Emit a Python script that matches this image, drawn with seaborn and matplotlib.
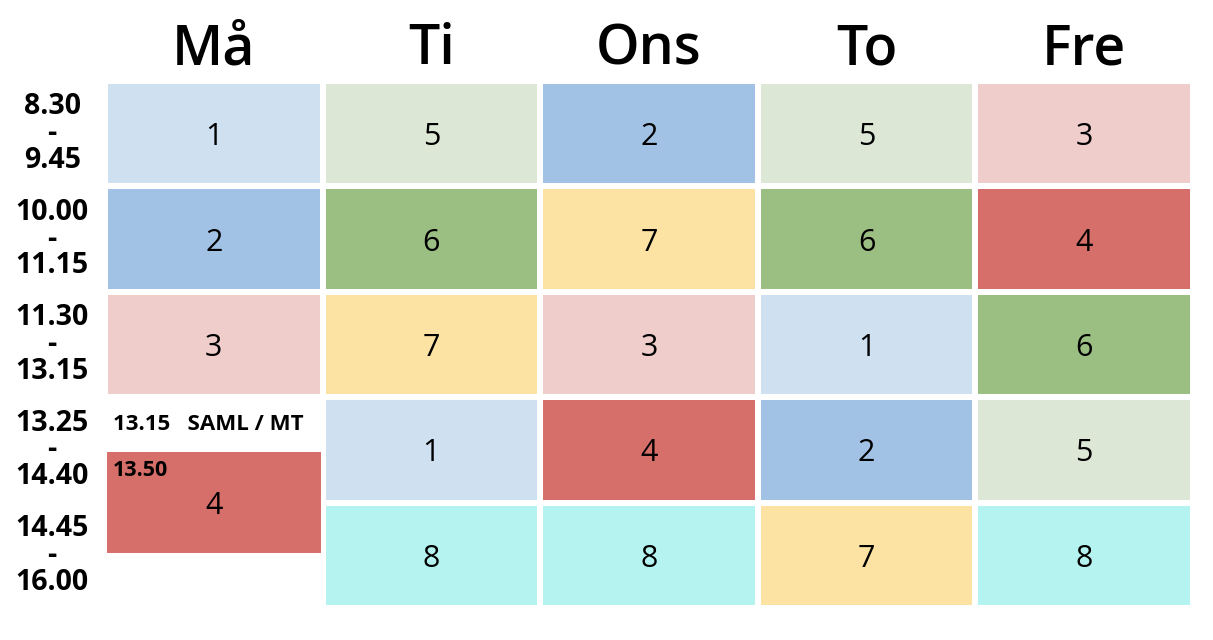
import numpy as np
import pandas as pd
import matplotlib
matplotlib.use("Agg")
import matplotlib.pyplot as plt
from matplotlib.colors import ListedColormap
import seaborn as sns

days = ["Må", "Ti", "Ons", "To", "Fre"]
times = ["8.30\n-\n9.45", "10.00\n-\n11.15", "11.30\n-\n13.15",
         "13.25\n-\n14.40", "14.45\n-\n16.00"]
ma = [1, 2, 3, np.nan, np.nan]
ti = [5, 6, 7, 1, 8]
ons = [2, 7, 3, 4, 8]
to = [5, 6, 1, 2, 7]
fre = [3, 4, 6, 5, 8]

# Monday afternoon special block
ma_note = "13.15   SAML / MT"
ma_block_subject = 4
ma_block_start_label = "13.50"
ma_block_start_slot = 3.5   # half-way into slot 4
ma_block_length = 1.0        # slots

subject_colors = ["#CFE0F1", "#A2C2E5", "#EFCDCB", "#D66F69",
                  "#DCE7D5", "#9BBF83", "#FCE3A3", "#B4F3EF"]

sns.set_theme(style="white")
plt.rcParams['font.family'] = ['Open Sans', 'DejaVu Sans']
plt.rcParams['text.color'] = 'black'
plt.rcParams['xtick.color'] = 'black'
plt.rcParams['ytick.color'] = 'black'

df = pd.DataFrame({"Må": ma, "Ti": ti, "Ons": ons, "To": to, "Fre": fre},
                  index=times)

W, H = 1213, 640
fig = plt.figure(figsize=(W / 100, H / 100), dpi=100)
ax = fig.add_axes([105 / W, 1 - 608 / H, 1088 / W, 527 / H])

cmap = ListedColormap(subject_colors)
gap = 2.9
sns.heatmap(df, cmap=cmap, vmin=0.5, vmax=8.5, annot=True, fmt=".0f",
            annot_kws={"fontsize": 22, "color": "black", "fontweight": "medium",
                       "va": "center_baseline"},
            linewidths=gap, linecolor="white", cbar=False, ax=ax,
            xticklabels=days, yticklabels=times)

# Monday block
ax.bar([0.5], [ma_block_length], bottom=[ma_block_start_slot], width=1.0,
       color=subject_colors[ma_block_subject - 1], edgecolor="white",
       linewidth=gap, align="center")
ax.text(0.5, ma_block_start_slot + ma_block_length / 2, str(ma_block_subject),
        ha="center", va="center_baseline", fontsize=22, fontweight="medium",
        color="black")
ax.text(0.035, ma_block_start_slot + 0.1, ma_block_start_label, ha="left",
        va="top", fontsize=15.5, fontweight="bold", color="black")
ax.text(0.035, 3.26, ma_note, ha="left", va="center", fontsize=16,
        fontweight="bold", color="black")

ax.set_xlim(0, 5)
ax.set_ylim(5, 0)
ax.set_xlabel("")
ax.set_ylabel("")

ax.xaxis.tick_top()
ax.tick_params(axis="x", length=0, pad=2, labelsize=40, labelcolor="black")
for lbl in ax.get_xticklabels():
    lbl.set_fontweight("semibold")
ax.tick_params(axis="y", length=0, pad=38, labelsize=20.5, labelcolor="black")
for lbl in ax.get_yticklabels():
    lbl.set_fontweight("bold")
    lbl.set_ha("center")
    lbl.set_rotation(0)
    lbl.set_linespacing(0.9)

for s in ax.spines.values():
    s.set_visible(False)

fig.savefig("out.png", dpi=100, facecolor="white")
